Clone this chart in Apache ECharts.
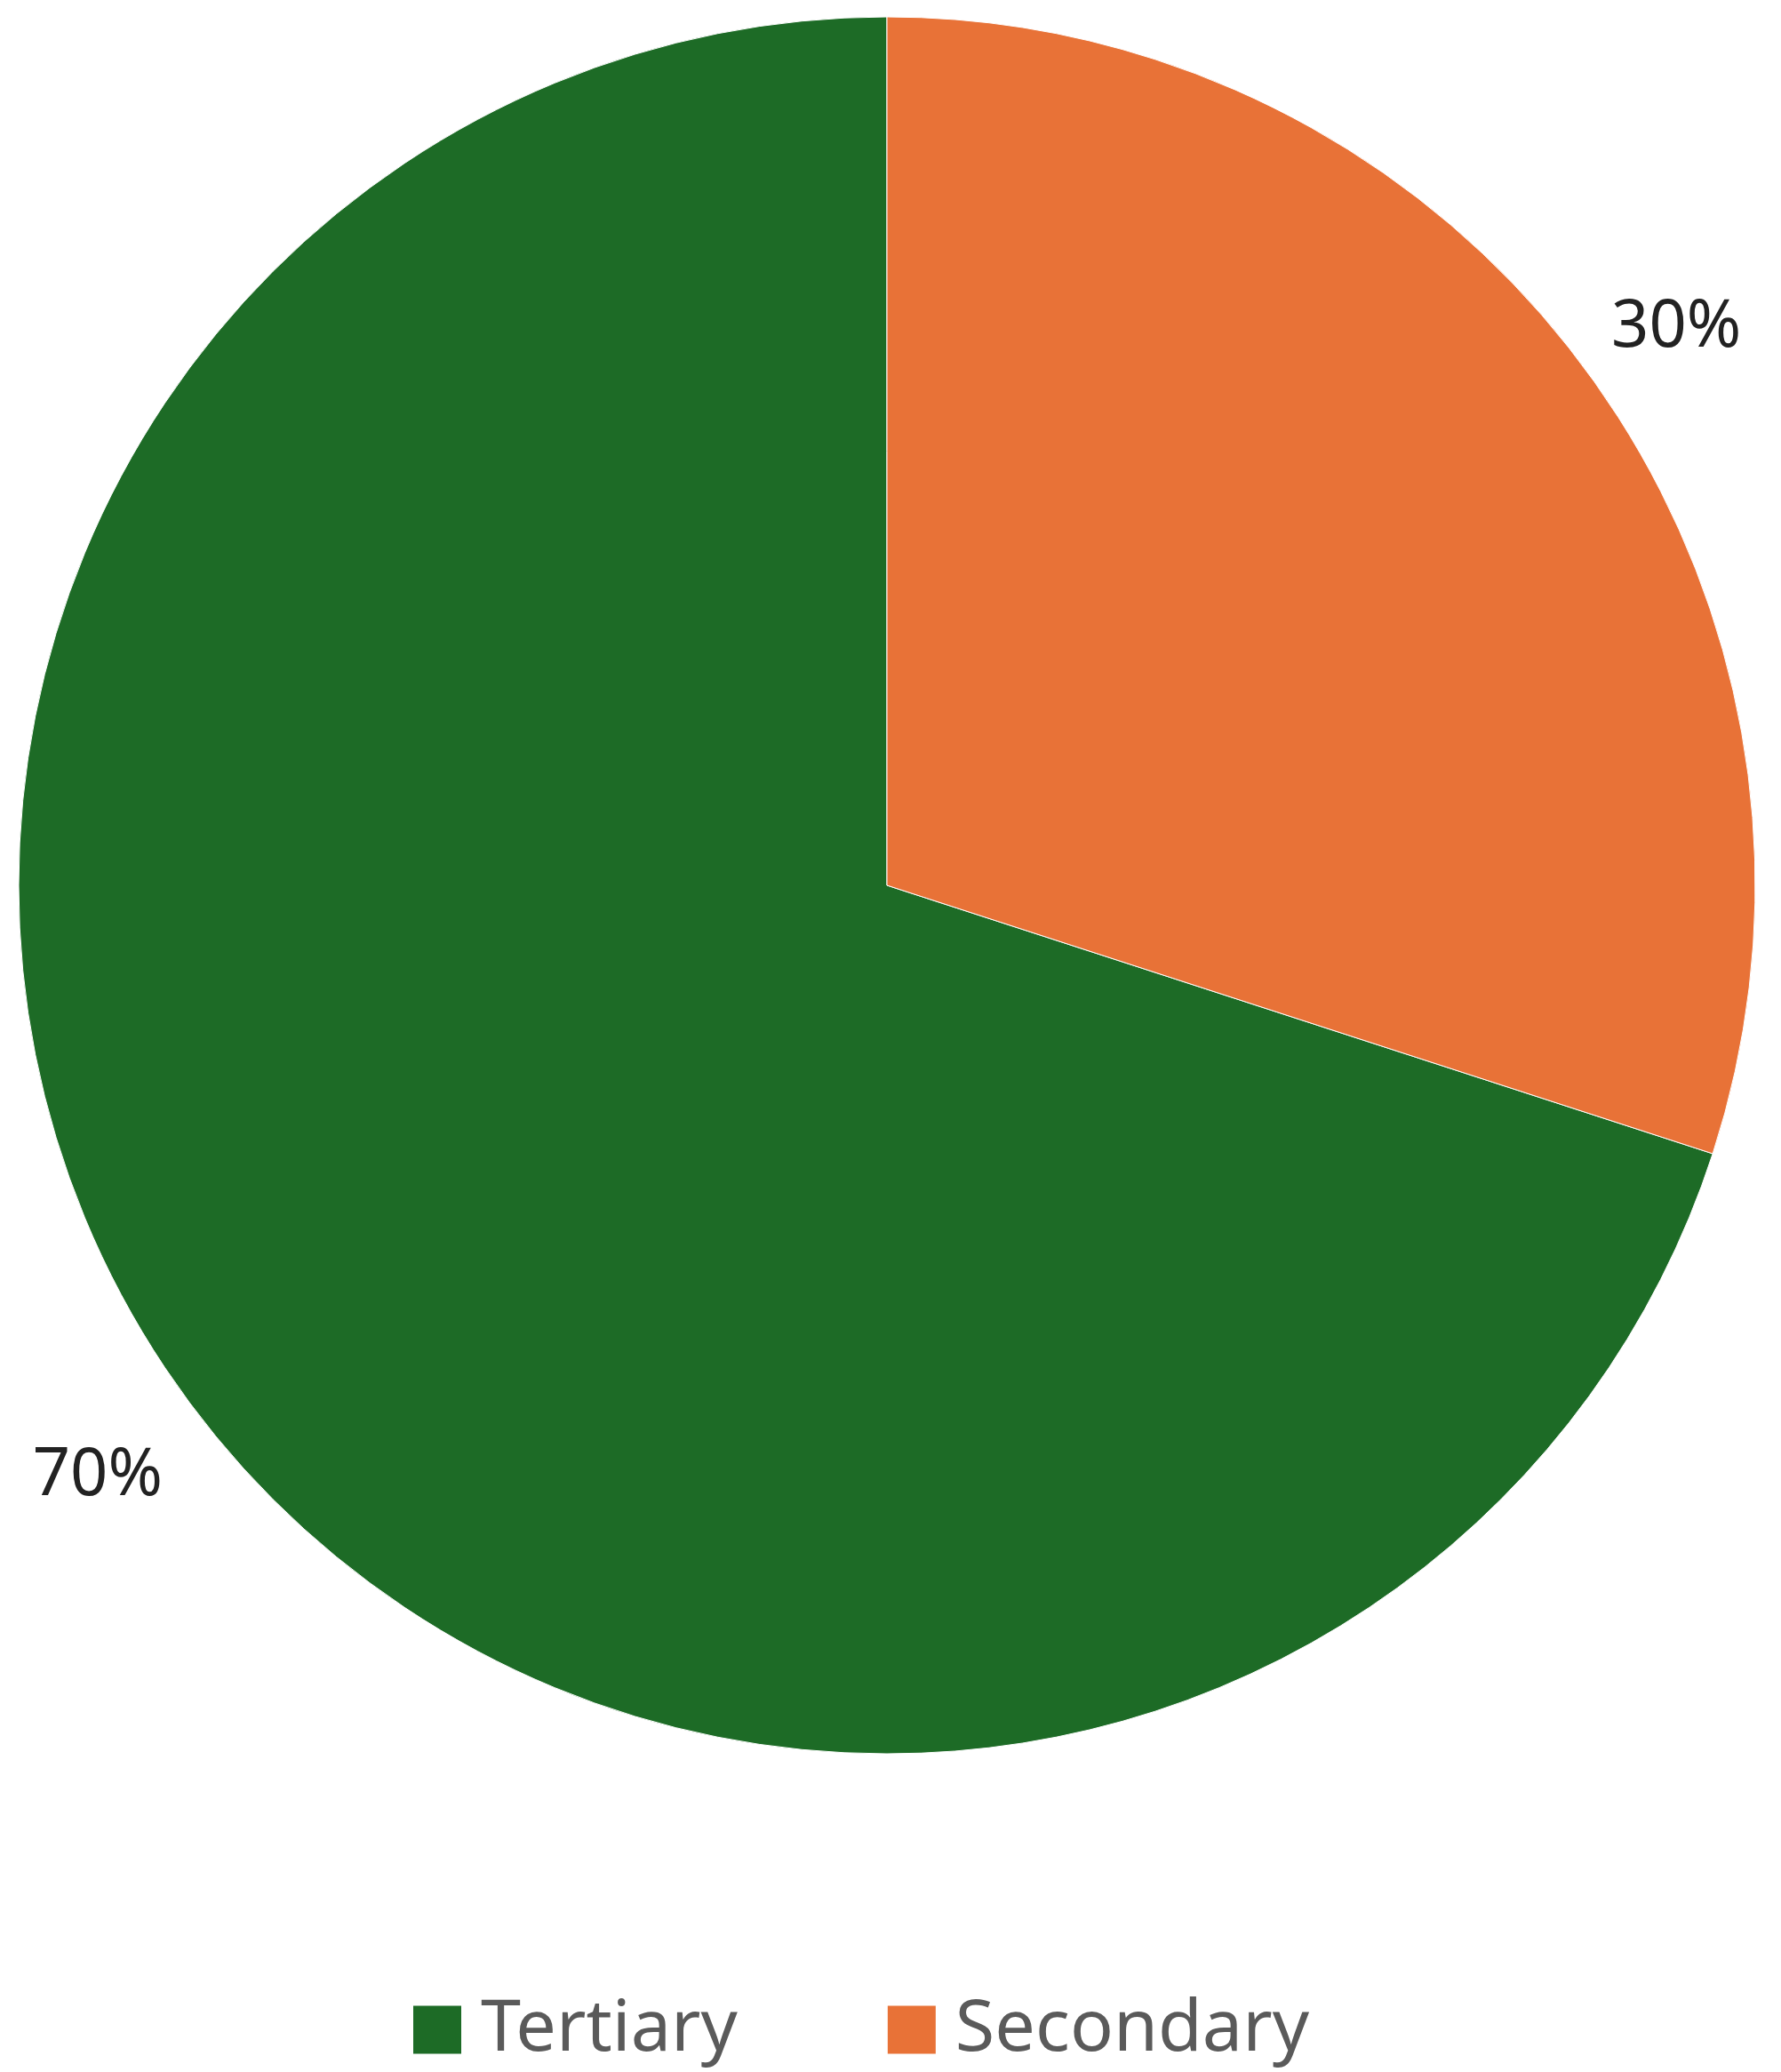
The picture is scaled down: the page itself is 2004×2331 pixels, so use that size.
<!DOCTYPE html>
<html>
<head>
<meta charset="utf-8">
<script src="https://cdn.jsdelivr.net/npm/echarts@6/dist/echarts.min.js"></script>
<style>
  html, body { margin: 0; padding: 0; background: #fff; }
  #pieChart { width: 2004px; height: 2331px; }
</style>
</head>
<body>
<div id="pieChart"></div>
<script>
// data
const categories = ["Tertiary", "Secondary"];
const shares = [70, 30];
const sliceColors = ["#1d6b26", "#e87237"];

const myChart = echarts.init(document.getElementById("pieChart"));

const option = {
  animation: false,
  backgroundColor: "#fff",
  legend: {
    data: categories,
    left: 458,
    top: 2238,
    icon: "rect",
    itemWidth: 56,
    itemHeight: 56,
    itemGap: 167,
    textStyle: {
      color: "#5a5a5a",
      fontSize: 81,
      lineHeight: 56,
      fontFamily: "'Noto Sans', sans-serif",
      padding: [0, 0, 0, 16],
    },
  },
  series: [
    {
      type: "pie",
      center: [998, 996],
      radius: 977,
      startAngle: 90,
      clockwise: false,
      avoidLabelOverlap: false,
      emphasis: { disabled: true },
      itemStyle: {
        borderColor: "#fff",
        borderWidth: 1,
      },
      label: {
        show: true,
        position: "outside",
        formatter: (p) => p.value + "%",
        color: "#222",
        fontSize: 74,
        fontFamily: "'Noto Sans', sans-serif",
        offset: [0, 19],
        distanceToLabelLine: -74,
      },
      labelLine: {
        show: false,
        length: 122,
        length2: 0,
      },
      data: categories.map((name, i) => ({
        name: name,
        value: shares[i],
        itemStyle: { color: sliceColors[i] },
      })),
    },
  ],
};

myChart.setOption(option);
</script>
</body>
</html>
